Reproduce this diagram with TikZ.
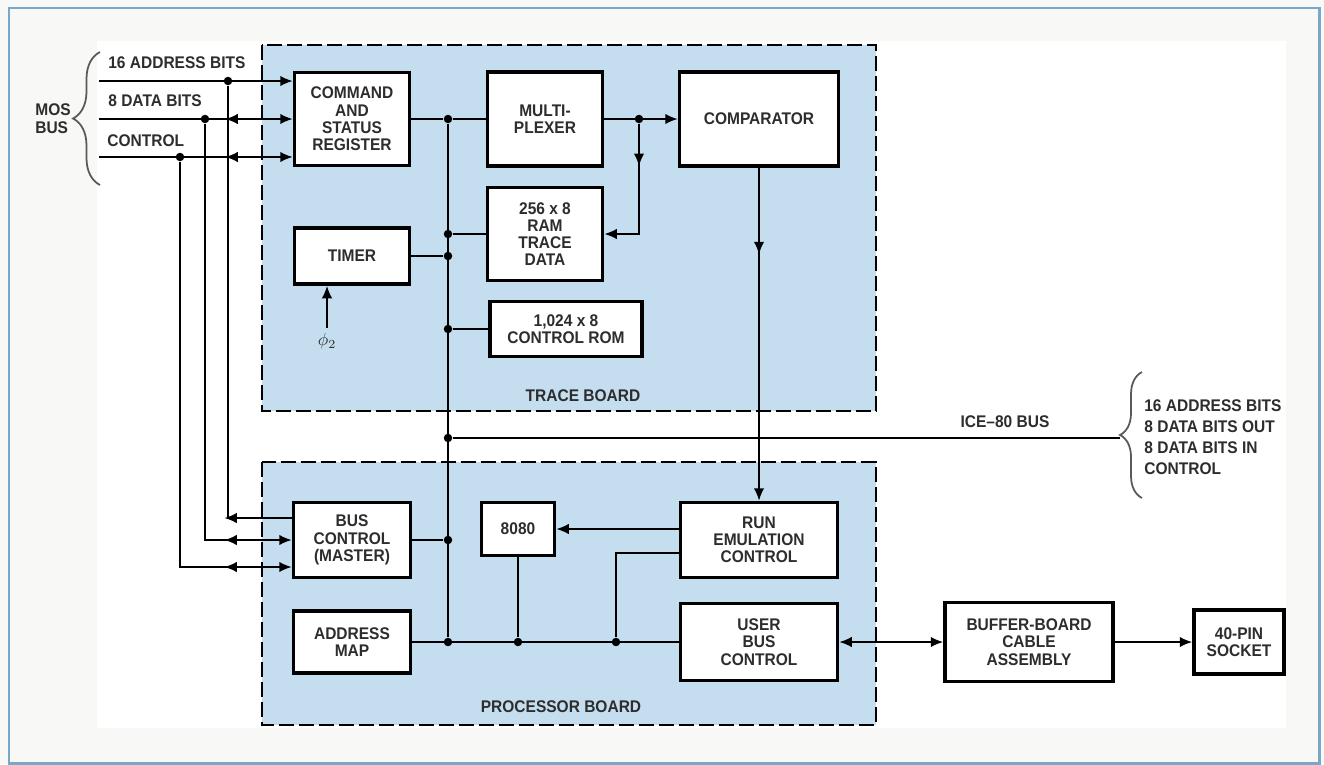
\documentclass[tikz,border=0pt]{standalone}
\usepackage{fontspec}
\setmainfont{Liberation Sans}[FakeStretch=0.92]
\usetikzlibrary{arrows.meta,calc,positioning,decorations.pathreplacing,decorations.markings}

\definecolor{boardblue}{RGB}{196,222,240}
\definecolor{frameblue}{RGB}{122,166,200}
\definecolor{paper}{RGB}{248,248,246}
\definecolor{ink}{RGB}{45,45,45}

\tikzset{
  blk/.style={draw=black, line width=2pt, fill=white, align=center, inner sep=1pt, text=ink},
  wire/.style={line width=1.1pt},
  board/.style={draw=black, line width=1.5pt, dash pattern=on 0.3cm off 0.1cm, fill=boardblue},
  jdot/.style={circle, fill=black, inner sep=0pt, minimum size=0.17cm},
  lbl/.style={text=ink, inner sep=0pt},
  brc/.style={decorate, decoration={brace, amplitude=#1}, draw=black!65, line width=1pt},
  backarr/.style={postaction={decorate, decoration={markings, mark=at position #1 with {\arrow{<}}}}},
  midarr/.style={postaction={decorate, decoration={markings, mark=at position #1 with {\arrow{>}}}}},
}

\begin{document}
\begin{tikzpicture}[x=0.02cm, y=-0.02cm, >={Latex[length=2.5mm,width=2.1mm]},
    font=\bfseries\fontsize{9.6}{9.8}\selectfont]
  \useasboundingbox (0,0) rectangle (1324,764);
  % page and frame
  \fill[paper] (0,0) rectangle (1324,764);
  \fill[white] (97,41) rectangle (1286,728);
  \draw[frameblue, line width=1.7pt] (9,8) rectangle (1319,763);

  % boards
  \draw[board] (262,45) rectangle (876,411);
  \draw[board] (262,462) rectangle (876,725);
  \node[lbl] (tracelbl) at (583,396) {TRACE BOARD};
  \node[lbl] (proclbl) at (561,707) {PROCESSOR BOARD};

  % trace board
  \node[blk, minimum width=2.3cm, minimum height=1.86cm] (csr) at (352,119) {COMMAND\\AND\\STATUS\\REGISTER};
  \node[blk, minimum width=2.3cm, minimum height=1.88cm] (mux) at (545,119) {MULTI-\\PLEXER};
  \node[blk, minimum width=3.18cm, minimum height=1.88cm] (comp) at (759,119) {COMPARATOR};
  \node[blk, minimum width=2.3cm, minimum height=1.86cm] (ram) at (545,234) {256 x 8\\RAM\\TRACE\\DATA};
  \node[blk, minimum width=2.3cm, minimum height=1.12cm] (timer) at (352,256) {TIMER};
  \node[blk, minimum width=3.04cm, minimum height=1.1cm] (rom) at (566,329) {1,024 x 8\\CONTROL ROM};

  % processor board
  \node[blk, minimum width=2.34cm, minimum height=1.5cm] (busctl) at (352,540) {BUS\\CONTROL\\(MASTER)};
  \node[blk, minimum width=1.46cm, minimum height=1.06cm] (cpu) at (518,529) {8080};
  \node[blk, minimum width=3.14cm, minimum height=1.5cm] (runemu) at (759,540) {RUN\\EMULATION\\CONTROL};
  \node[blk, minimum width=2.34cm, minimum height=1.24cm] (addrmap) at (352,642) {ADDRESS\\MAP};
  \node[blk, minimum width=3.14cm, minimum height=1.54cm] (userbus) at (759,642) {USER\\BUS\\CONTROL};

  % off-board
  \node[blk, minimum width=3.36cm, minimum height=1.58cm] (buffer) at (1029,642) {BUFFER-BOARD\\CABLE\\ASSEMBLY};
  \node[blk, minimum width=1.8cm, minimum height=1.28cm] (socket) at (1239,642) {40-PIN\\SOCKET};

  % junctions
  \node[jdot] (busT) at (448,119) {};
  \node[jdot] (jram) at (448,234) {};
  \node[jdot] (jtim) at (448,256) {};
  \node[jdot] (jrom) at (448,329) {};
  \node[jdot] (jice) at (448,438) {};
  \node[jdot] (jbus) at (448,540) {};
  \node[jdot] (busB) at (448,642) {};
  \node[jdot] (jcpu) at (518,642) {};
  \node[jdot] (jrun) at (616,642) {};
  \node[jdot] (jmux) at (639,119) {};
  \node[jdot] (jA) at (228,81) {};
  \node[jdot] (jD) at (205,119) {};
  \node[jdot] (jC) at (180,157) {};

  % MOS bus
  \coordinate (mosA) at (99,81);
  \coordinate (mosD) at (99,119);
  \coordinate (mosC) at (99,157);
  \node[lbl, anchor=west] (lblA) at (108,63) {16 ADDRESS BITS};
  \node[lbl, anchor=west] (lblD) at (108,101) {8 DATA BITS};
  \node[lbl, anchor=west] (lblC) at (107,141) {CONTROL};
  \node[lbl, align=left, font=\bfseries\fontsize{9.6}{10.2}\selectfont] (mosbus) at (53,119) {MOS\\BUS};
  \draw[brc=0.54cm] (100,185) -- (100,52);

  \draw[wire,->] (mosA) -- ([yshift=0.76cm]csr.west);
  \draw[wire,->,backarr=-1.1cm] (mosD) -- (csr.west);
  \draw[wire,->,backarr=-1.1cm] (mosC) -- ([yshift=-0.76cm]csr.west);
  \draw[wire,backarr=-1.1cm] (jA) |- ([yshift=0.44cm]busctl.west);
  \draw[wire,->,backarr=-1.1cm] (jD) |- (busctl.west);
  \draw[wire,->,backarr=-1.1cm] (jC) |- ([yshift=-0.54cm]busctl.west);

  % trace board wiring
  \draw[wire] (csr) -- (busT) -- (mux);
  \draw[wire] (busT) -- (busB);
  \draw[wire,->] (mux) -- (comp);
  \draw[wire,->,midarr=0.85cm] (jmux) |- (ram.east);
  \draw[wire] (ram) -- (jram);
  \draw[wire] (timer) -- (jtim);
  \draw[wire] (rom) -- (jrom);
  \coordinate (phi) at (327,328);
  \draw[wire,->] (phi) -- (phi |- timer.south);
  \node[lbl, below=0.1cm of phi] (philbl) {$\phi_2$};
  \draw[wire,->,midarr=0.26] (comp) -- (runemu);

  % ICE-80 bus
  \coordinate (icetip) at (1120,438);
  \draw[wire] (jice) -- (icetip);
  \node[lbl] (icelbl) at (1005,422) {ICE--80 BUS};
  \draw[brc=0.44cm] (1142,498) -- (1142,372);
  \node[lbl, anchor=west, align=left, font=\bfseries\fontsize{9.6}{11.9}\selectfont] (icelist) at (1144,437)
    {16 ADDRESS BITS\\8 DATA BITS OUT\\8 DATA BITS IN\\CONTROL};

  % processor board wiring
  \draw[wire] (busctl) -- (jbus);
  \draw[wire] (addrmap) -- (userbus);
  \draw[wire] (cpu) -- (jcpu);
  \draw[wire,->] (runemu.west |- cpu) -- (cpu);
  \draw[wire] ([yshift=-0.26cm]runemu.west) -| (jrun);
  \draw[wire,<->] (userbus) -- (buffer);
  \draw[wire,->] (buffer) -- (socket);
\end{tikzpicture}
\end{document}
